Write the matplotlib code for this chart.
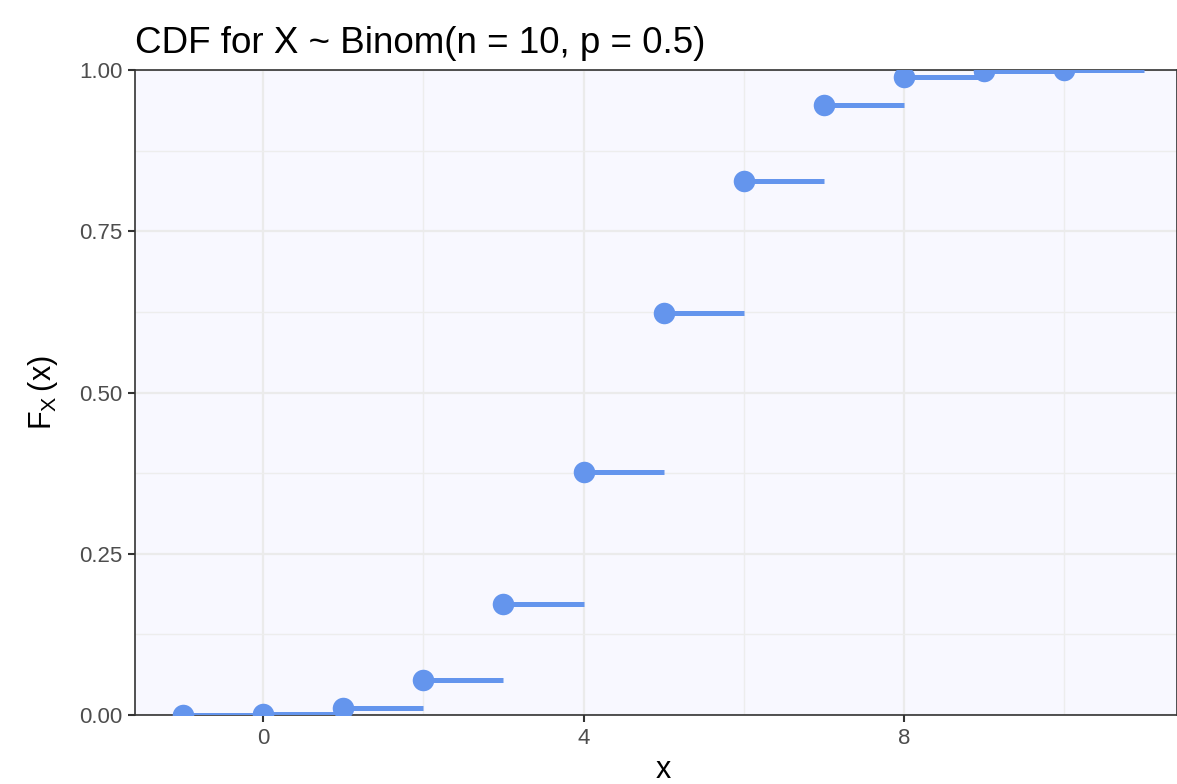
import matplotlib.pyplot as plt
from matplotlib.ticker import MultipleLocator

plt.rcParams['font.family'] = ['Liberation Sans', 'DejaVu Sans']

# binomial(10, 0.5) cdf
x_vals = [-1, 0, 1, 2, 3, 4, 5, 6, 7, 8, 9, 10]
cdf_vals = [0.0, 0.001, 0.0107, 0.0547, 0.1719, 0.377, 0.623, 0.8281, 0.9453, 0.9893, 0.999, 1.0]
x_ticks = [0, 4, 8]
y_ticks = [0.00, 0.25, 0.50, 0.75, 1.00]

blue = '#6495ED'

fig = plt.figure(figsize=(11.77, 7.84), dpi=100, facecolor='white')
ax = fig.add_axes([0.1147, 0.088, 0.8853, 0.8227])
ax.set_facecolor('#F8F8FF')

ax.hlines(cdf_vals, x_vals, [x + 1 for x in x_vals], color=blue, linewidth=3.6, zorder=3)
ax.plot(x_vals, cdf_vals, 'o', color=blue, markersize=15.5, markeredgewidth=0, zorder=4)

ax.set_xlim(-1.6, 11.41)
ax.set_ylim(0, 1)
ax.set_xticks(x_ticks)
ax.set_yticks(y_ticks)
ax.set_yticklabels(['%.2f' % v for v in y_ticks])
ax.xaxis.set_minor_locator(MultipleLocator(2))
ax.yaxis.set_minor_locator(MultipleLocator(0.125))
ax.grid(True, which='major', color='#EBEBEB', linewidth=1.6, zorder=0)
ax.grid(True, which='minor', color='#EDEDED', linewidth=1.0, zorder=0)
ax.set_axisbelow(True)

ax.tick_params(axis='both', which='major', length=5, width=1.5, color='#333333',
               labelsize=16, labelcolor='#4D4D4D', pad=4)
ax.tick_params(axis='both', which='minor', length=0)
for s in ax.spines.values():
    s.set_color('#333333')
    s.set_linewidth(1.2)

ax.set_xlabel('x', fontsize=22, labelpad=3)
ax.xaxis.set_label_coords(0.507, -0.062, transform=ax.transAxes)
ax.xaxis.label.set_va('top')
ax.set_ylabel(r'$\mathregular{F_X\,(x)}$', fontsize=22, labelpad=14)
ax.set_title('CDF for X ~ Binom(n = 10, p = 0.5)', loc='left', fontsize=26.5, pad=12)

plt.savefig('out.png', dpi=100, facecolor='white')
